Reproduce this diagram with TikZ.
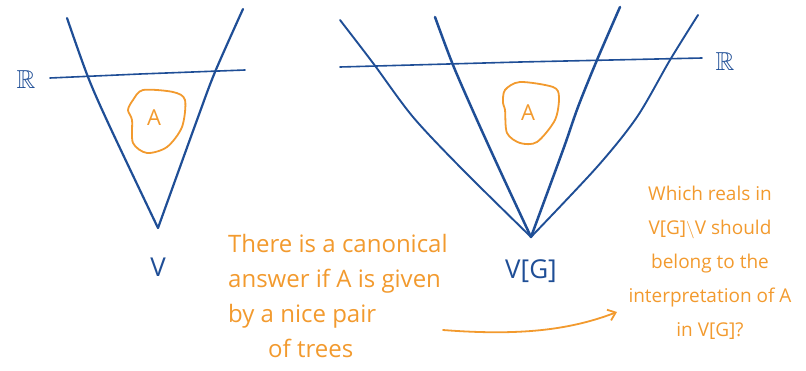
\documentclass[tikz,border=0pt]{standalone}
\usepackage{amssymb}
\usepackage{fontspec}
\newfontfamily\handfont{Open Sans}
\usetikzlibrary{arrows.meta, positioning}
\definecolor{inkblue}{HTML}{1F4E96}
\definecolor{inkorange}{HTML}{F29A2E}

\begin{document}
\begin{tikzpicture}[x=1pt, y=-1pt,
  cone/.style={inkblue, line width=2.2pt, line cap=round},
  reals/.style={inkblue, line width=1.6pt, line cap=round},
  blob/.style={inkorange, line width=1.8pt},
  lab/.style={inkblue, font=\handfont\fontsize{26}{26}\selectfont, inner sep=0pt},
  setlab/.style={inkorange, font=\handfont\fontsize{22}{22}\selectfont, inner sep=0pt},
  note/.style={inkorange, inner sep=0pt},
  signal/.style={inkorange, line width=1.8pt, line cap=round, -{Straight Barb[length=2.5mm, width=4mm]}}
]
\useasboundingbox (0,0) rectangle (806,370);

% Ground model V
\coordinate (vtip) at (158,228);
\draw[cone] plot[smooth] coordinates {(67,18) (88,77) (110,127) (vtip)};
\draw[cone] plot[smooth] coordinates {(243,9) (215,72) (197,120) (vtip)};
\draw[reals] (50,78) -- (140,74) -- (245,70);
\node[lab] (rv) at (26,80) {$\mathbb{R}$};
\node[lab, below=30pt of vtip] (v) {V};
\draw[blob] plot[smooth cycle] coordinates {(133,100) (143,90) (173,92) (185,100)
  (182,127) (167,147) (147,153) (133,143) (132,120) (128,110)};
\node[setlab] (av) at (154,118) {A};

% Extension V[G]
\coordinate (gtip) at (531,237);
\draw[cone, line width=1.9pt] plot[smooth] coordinates {(340,20) (373,63) (413,117) (463,170) (gtip)};
\draw[cone, line width=2.5pt] plot[smooth] coordinates {(435,17) (453,65) (477,120) (503,177) (gtip)};
\draw[cone, line width=2.5pt] plot[smooth] coordinates {(620,7) (597,60) (578,107) (563,150) (gtip)};
\draw[cone, line width=1.9pt] plot[smooth] coordinates {(698,15) (670,60) (637,117) (597,167) (gtip)};
\draw[reals] (340,67) -- (520,62) -- (702,58);
\node[lab] (rg) at (725,62) {$\mathbb{R}$};
\node[lab, below=22pt of gtip] (vg) {V[G]};
\draw[blob] plot[smooth cycle] coordinates {(505,90) (520,82) (553,87) (559,97)
  (555,120) (537,142) (520,143) (507,133) (505,110) (503,103)};
\node[setlab] (ag) at (528,113) {A};

% Notes
\node[note, font=\handfont\fontsize{24}{35}\selectfont, align=left, anchor=north west] (canon) at (228,234)
  {There is a canonical\\answer if A is given\\by a nice pair\\\hspace*{40pt}of trees};
\node[note, font=\handfont\fontsize{19}{34}\selectfont, align=center, anchor=north] (which) at (710,186)
  {Which reals in\\V[G]$\setminus$V should\\belong to the\\interpretation of A\\in V[G]?};
\coordinate (arrs) at (443,330);
\coordinate (arre) at (617,312);
\draw[signal] (arrs) .. controls (520,336) and (570,330) .. (arre);
\end{tikzpicture}
\end{document}
